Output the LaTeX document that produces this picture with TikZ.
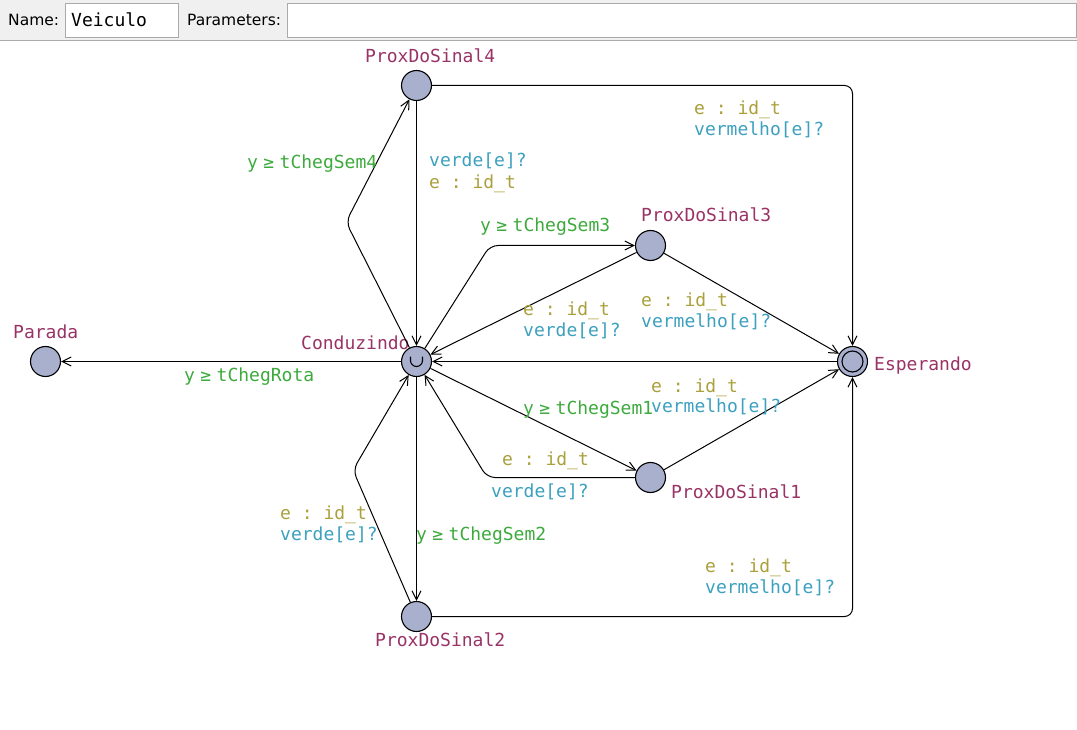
\documentclass[tikz,border=0pt]{standalone}
\usepackage{fontspec}
\setmainfont{DejaVu Sans}
\setmonofont{DejaVu Sans Mono}
\usetikzlibrary{arrows.meta,positioning}
\definecolor{locfill}{RGB}{168,176,206}
\definecolor{namecol}{RGB}{153,51,102}
\definecolor{guardcol}{RGB}{60,170,60}
\definecolor{selcol}{RGB}{170,160,60}
\definecolor{synccol}{RGB}{60,160,190}
\definecolor{headbg}{RGB}{240,240,240}
\definecolor{boxline}{RGB}{170,170,170}
\tikzset{loc/.style={draw,circle,fill=locfill,minimum size=30pt,
                     inner sep=0pt,line width=1.1pt}}
\tikzset{edge/.style={-{Straight Barb[length=9pt,width=9pt]},
                      line width=1pt,rounded corners=8pt}}
\tikzset{lbl/.style={anchor=base west,inner sep=0pt,
                     font=\ttfamily\fontsize{18}{21}\selectfont}}
\tikzset{locname/.style={lbl,text=namecol}}
\tikzset{guard/.style={lbl,text=guardcol}}
\tikzset{sel/.style={lbl,text=selcol}}
\tikzset{sync/.style={lbl,text=synccol}}
\tikzset{headtext/.style={anchor=base west,inner sep=0pt,
                          font=\fontsize{15.5}{18}\selectfont}}
\newcommand{\gelig}{\makebox[1.204em]{≥}}
\newcommand{\idt}{e : id\_t}

\begin{document}
\begin{tikzpicture}[x=1pt,y=-1pt]
        \useasboundingbox (0,0) rectangle (1077,730);
        % Header
        \fill[headbg] (0,0) rectangle (1077,40);
        \draw[boxline,line width=1pt] (0,40.5) -- (1077,40.5);
        \node[headtext] (namelbl) at (8,26) {Name:};
        \draw[boxline,fill=white] (65.5,3.5) rectangle (178.5,37.5);
        \node[lbl] (tname) at (71,27) {Veiculo};
        \node[headtext] (parlbl) at (187,26) {Parameters:};
        \draw[boxline,fill=white] (287.5,3.5) rectangle (1076,37.5);
        % Locations
        \node[loc] (parada) at (45.5,361.5) {};
        \node[loc] (cond) at (416.5,361.5) {};
        \node[loc] (px4) at (416.5,85.5) {};
        \node[loc] (px3) at (650.5,245.5) {};
        \node[loc] (px1) at (650.5,477.5) {};
        \node[loc] (px2) at (416.5,616.5) {};
        \node[loc] (esp) at (852.5,361.5) {};
        \draw[line width=1.1pt] (esp) circle[radius=10.5];
        \draw[line width=1.1pt] (cond) ++(-6,-5) -- ++(0,4)
              arc[start angle=180,end angle=0,radius=6] -- ++(0,-4);
        \foreach \n/\x/\y [count=\ni] in {ProxDoSinal4/365/63,
              ProxDoSinal3/641/222,Conduzindo/301/349,Parada/13/338,
              Esperando/874/370,ProxDoSinal1/671/498,ProxDoSinal2/375/646}{%
              \node[locname] (name\ni) at (\x,\y) {\n};
            }
        % Bend points
        \coordinate (b4) at (346,222);
        \coordinate (b3) at (490,245.5);
        \coordinate (b1) at (487,477.5);
        \coordinate (b2) at (353,470);
        \coordinate (c4) at (852.5,85.5);
        \coordinate (c2) at (852.5,616.5);
        % Edges
        \draw[edge] (cond) -- (parada);
        \draw[edge] (cond) -- (b4) -- (px4);
        \draw[edge] (px4) -- (cond);
        \draw[edge] (px4) -- (c4) -- (esp);
        \draw[edge] (cond) -- (b3) -- (px3);
        \draw[edge] (px3) -- (cond);
        \draw[edge] (px3) -- (esp);
        \draw[edge] (esp) -- (cond);
        \draw[edge] (cond) -- (px1);
        \draw[edge] (px1) -- (b1) -- (cond);
        \draw[edge] (px1) -- (esp);
        \draw[edge] (cond) -- (px2);
        \draw[edge] (px2) -- (b2) -- (cond);
        \draw[edge] (px2) -- (c2) -- (esp);
        % Labels
        \node[guard] (g4) at (247,169) {y\gelig tChegSem4};
        \node[sync] (s4) at (429,167) {verde[e]?};
        \node[sel] (e4) at (429,189) {\idt};
        \node[sel] (e4r) at (694,115) {\idt};
        \node[sync] (s4r) at (694,136) {vermelho[e]?};
        \node[guard] (g3) at (480,232) {y\gelig tChegSem3};
        \node[sel] (e3) at (523,316) {\idt};
        \node[sync] (s3) at (523,337) {verde[e]?};
        \node[sel] (e3r) at (641,307) {\idt};
        \node[sync] (s3r) at (641,327) {vermelho[e]?};
        \node[guard] (gr) at (184,381) {y\gelig tChegRota};
        \node[sel] (e1r) at (651,392) {\idt};
        \node[sync] (s1r) at (651,412) {vermelho[e]?};
        \node[guard] (g1) at (523,414) {y\gelig tChegSem1};
        \node[sel] (e1) at (502,465) {\idt};
        \node[sync] (s1) at (491,497) {verde[e]?};
        \node[sel] (e2) at (280,519) {\idt};
        \node[sync] (s2) at (280,540) {verde[e]?};
        \node[guard] (g2) at (416,540) {y\gelig tChegSem2};
        \node[sel] (e2r) at (705,572) {\idt};
        \node[sync] (s2r) at (705,593) {vermelho[e]?};
    \end{tikzpicture}
\end{document}
